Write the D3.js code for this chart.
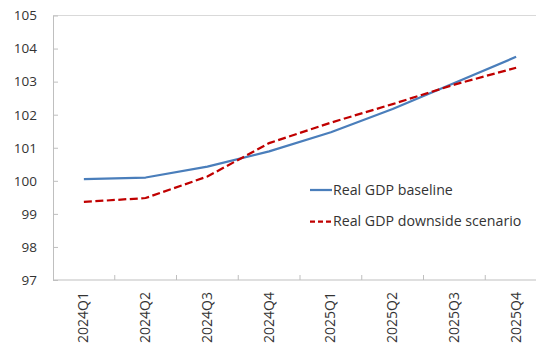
<!DOCTYPE html>
<html>
<head>
<meta charset="utf-8">
<script src="https://cdn.jsdelivr.net/npm/d3@7/dist/d3.min.js"></script>
<style>
  html, body { margin: 0; padding: 0; background: #fff; overflow: hidden; }
  svg { display: block; }
  text { font-family: "Open Sans", "Noto Sans", sans-serif; fill: #333333; }
</style>
</head>
<body>
<svg id="chart" width="536" height="343"></svg>
<script>
// Quarterly real GDP index paths
const quarters = ["2024Q1", "2024Q2", "2024Q3", "2024Q4", "2025Q1", "2025Q2", "2025Q3", "2025Q4"];
const baseline = [100.05, 100.10, 100.43, 100.89, 101.47, 102.17, 102.96, 103.75];
const downside = [99.36, 99.48, 100.13, 101.14, 101.76, 102.32, 102.91, 103.42];
const yTicks = [97, 98, 99, 100, 101, 102, 103, 104, 105];
const seriesNames = ["Real GDP baseline", "Real GDP downside scenario"];

const svg = d3.select("#chart");
const plot = { left: 53, right: 547, top: 15.5, bottom: 280 };

const x = d3.scaleBand().domain(quarters).range([plot.left, plot.right]);
const y = d3.scaleLinear().domain([97, 105]).range([plot.bottom, plot.top]);

const axisColor = "#bfbfbf";

// Top border of the plot area
svg.append("line")
  .attr("x1", plot.left).attr("x2", plot.right)
  .attr("y1", plot.top).attr("y2", plot.top)
  .attr("stroke", "#d9d9d9").attr("stroke-width", 1);

// Y axis with inward ticks
const yAxis = svg.append("g")
  .attr("transform", `translate(${plot.left},0)`)
  .call(d3.axisLeft(y).tickValues(yTicks).tickSizeInner(-5).tickSizeOuter(0).tickPadding(16));
yAxis.select(".domain").attr("stroke", axisColor);
yAxis.selectAll(".tick line").attr("stroke", axisColor);
yAxis.selectAll(".tick text")
  .attr("font-size", 13.5)
  .attr("font-family", "'Open Sans', sans-serif")
  .attr("fill", "#333333");

// X axis: category boundaries ticked inward, labels rotated
const xAxis = svg.append("g")
  .attr("transform", `translate(0,${plot.bottom})`);
xAxis.append("line")
  .attr("x1", plot.left).attr("x2", plot.right)
  .attr("stroke", axisColor);
xAxis.selectAll("line.bound")
  .data(quarters.slice(1))
  .join("line")
  .attr("class", "bound")
  .attr("x1", d => x(d)).attr("x2", d => x(d))
  .attr("y1", 0).attr("y2", -5)
  .attr("stroke", axisColor);
xAxis.selectAll("text.q")
  .data(quarters)
  .join("text")
  .attr("class", "q")
  .attr("transform", d => `translate(${x(d) + x.bandwidth() / 2 + 4.5},12) rotate(-90)`)
  .attr("text-anchor", "end")
  .attr("font-size", 14)
  .text(d => d);

const cx = d => x(d) + x.bandwidth() / 2;
const line = d3.line().x((d, i) => cx(quarters[i])).y(d => y(d));

svg.append("path")
  .datum(baseline)
  .attr("d", line)
  .attr("fill", "none")
  .attr("stroke", "#4a7ebb")
  .attr("stroke-width", 2.25)
  .attr("stroke-linejoin", "round");

svg.append("path")
  .datum(downside)
  .attr("d", line)
  .attr("fill", "none")
  .attr("stroke", "#c00000")
  .attr("stroke-width", 2.25)
  .attr("stroke-dasharray", "8,3.5");

// Legend
const legend = svg.append("g");
const legendItems = [
  { name: seriesNames[0], color: "#4a7ebb", dash: null, y: 190 },
  { name: seriesNames[1], color: "#c00000", dash: "5,3", y: 221.5 }
];
legendItems.forEach(item => {
  legend.append("line")
    .attr("x1", 310).attr("x2", 332)
    .attr("y1", item.y).attr("y2", item.y)
    .attr("stroke", item.color)
    .attr("stroke-width", 2.25)
    .attr("stroke-dasharray", item.dash);
  legend.append("text")
    .attr("x", 333).attr("y", item.y)
    .attr("dy", "0.35em")
    .attr("font-size", 14.2)
    .text(item.name);
});
</script>
</body>
</html>
